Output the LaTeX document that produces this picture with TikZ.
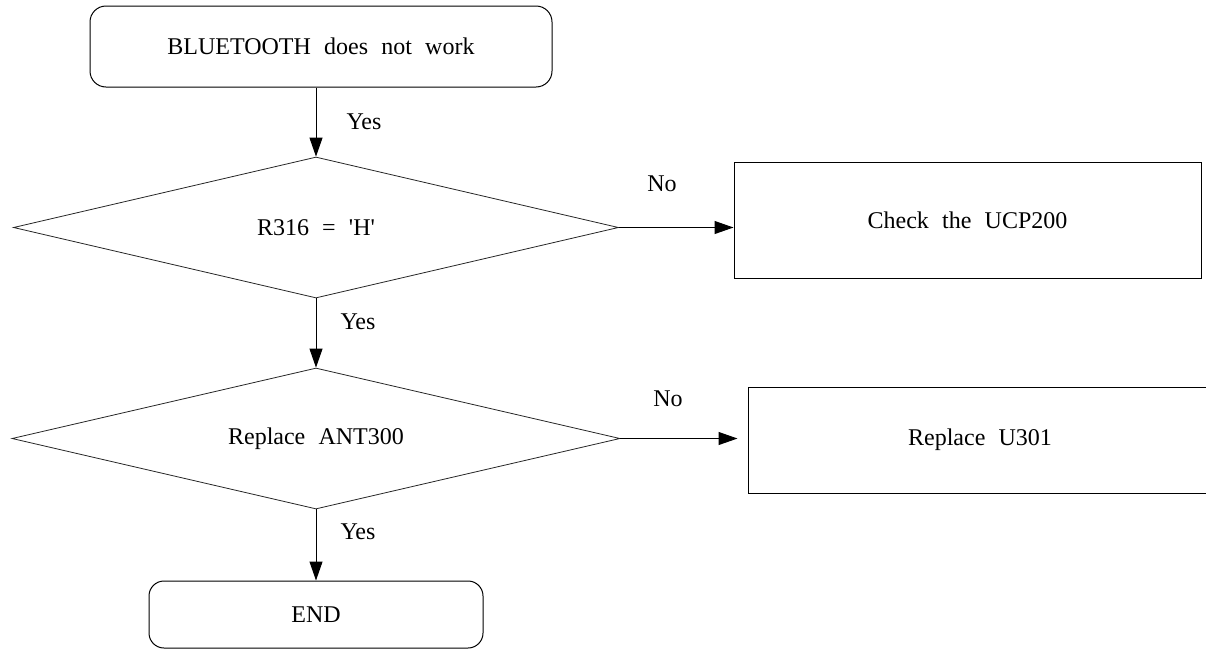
\documentclass[tikz,border=0pt]{standalone}
\usepackage{fontspec}
\setmainfont{Liberation Serif}[WordSpace=2.2]
\usetikzlibrary{shapes.geometric,arrows.meta}
\tikzset{
  base/.style={draw=black, line width=1pt, inner sep=0pt, align=center,
    font=\fontsize{24}{28}\selectfont},
  termbox/.style={base, rounded corners=16pt},
  procbox/.style={base},
  decbox/.style={base, diamond, aspect=4.3, line width=0.8pt, draw=black!85},
  arr/.style={line width=1pt, -{Triangle[length=19pt,width=13pt]}},
  lbl/.style={font=\fontsize{24}{28}\selectfont, inner sep=0pt}
}
\begin{document}
\begin{tikzpicture}[x=1pt,y=-1pt]
\useasboundingbox (0,0) rectangle (1206,651);
\node[termbox, minimum width=462pt, minimum height=81pt] (top) at (321,46.5) {BLUETOOTH does not work};
\node[decbox, minimum width=605pt, minimum height=141pt] (d1) at (316,227.5) {R316 = \textquotesingle H\textquotesingle};
\node[procbox, minimum width=467pt, minimum height=116pt] (b1) at (967.5,220) {Check the UCP200};
\node[decbox, minimum width=608pt, minimum height=141pt] (d2) at (316,438.5) {Replace ANT300};
\node[procbox, minimum width=464pt, minimum height=106pt] (b2) at (980,440) {Replace U301};
\node[termbox, rounded corners=15pt, minimum width=334pt, minimum height=67pt] (end) at (316,614.5) {END};
\draw[arr] (top.south -| d1.north) -- (d1.north);
\draw[arr] (d1.south) -- (d2.north);
\draw[arr] (d2.south) -- (end.north);
\draw[arr] (d1.east) -- (d1.east -| b1.west);
\draw[arr, shorten >=10pt] (d2.east) -- (d2.east -| b2.west);
\node[lbl] (y1) at (364,122) {Yes};
\node[lbl] (y2) at (358,322) {Yes};
\node[lbl] (y3) at (358,532) {Yes};
\node[lbl] (n1) at (662,184) {No};
\node[lbl] (n2) at (668,399) {No};
\end{tikzpicture}
\end{document}
